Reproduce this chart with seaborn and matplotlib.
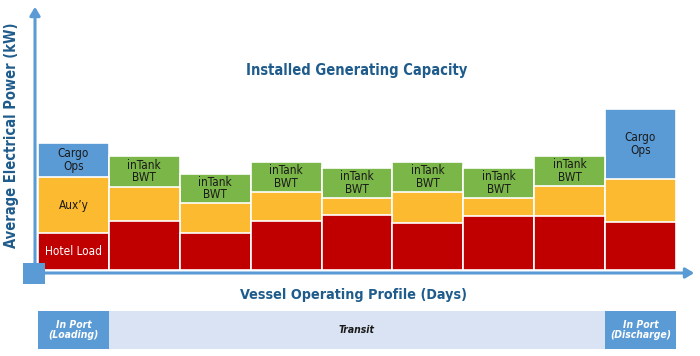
import matplotlib
matplotlib.use("Agg")
import matplotlib.pyplot as plt
import seaborn as sns
import pandas as pd
from matplotlib.patches import Rectangle, FancyArrowPatch

# data (pixel heights above the baseline)
days = ["D1", "D2", "D3", "D4", "D5", "D6", "D7", "D8", "D9"]
hotel_load = [37, 49, 37, 49, 55, 47, 54, 54, 48]
aux_load = [56, 34, 30, 29, 17, 31, 18, 30, 43]
top_load = [34, 31, 29, 30, 30, 30, 30, 30, 70]
top_kind = ["Cargo\nOps", "inTank\nBWT", "inTank\nBWT", "inTank\nBWT", "inTank\nBWT",
            "inTank\nBWT", "inTank\nBWT", "inTank\nBWT", "Cargo\nOps"]
phases = ["In Port\n(Loading)", "Transit", "In Port\n(Discharge)"]
phase_days = [1, 7, 1]

RED = "#C00000"
YELLOW = "#FBBA2F"
GREEN = "#7AB648"
BLUE = "#5B9BD5"
NAVY = "#1F5C8C"
LIGHT = "#DAE3F3"

sns.set_style("white")
plt.rcParams["font.family"] = ["DejaVu Sans"]
plt.rcParams["font.stretch"] = "condensed"

W, H = 700, 356
fig = plt.figure(figsize=(7, 3.56), dpi=100)


def fx(x):
    return x / W


def fy(y):
    return 1 - y / H


df = pd.DataFrame({"day": days, "hotel": hotel_load, "aux": aux_load,
                   "top": top_load, "kind": top_kind})
df["mid"] = df["hotel"] + df["aux"]
df["total"] = df["mid"] + df["top"]

# main bar axes: x 38..676 px, baseline at 270 px, top at 5 px
ax = fig.add_axes([fx(38), fy(270), fx(676 - 38), (270 - 5) / H])
palette = {"Cargo\nOps": BLUE, "inTank\nBWT": GREEN}
sns.barplot(data=df, x="day", y="total", hue="kind", palette=palette, dodge=False,
            saturation=1, legend=False, width=1.0, edgecolor="white", linewidth=1.2, ax=ax)
sns.barplot(data=df, x="day", y="mid", color=YELLOW, saturation=1, width=1.0,
            edgecolor="white", linewidth=1.2, ax=ax)
sns.barplot(data=df, x="day", y="hotel", color=RED, saturation=1, width=1.0,
            edgecolor="white", linewidth=1.2, ax=ax)
ax.set_xlim(-0.5, 8.5)
ax.set_ylim(0, 265)
ax.axis("off")

for i, row in df.iterrows():
    ax.text(i, row["mid"] + row["top"] / 2, row["kind"], ha="center", va="center",
            fontsize=8.5, color="#1a1a1a", linespacing=0.95)
ax.text(0, df["hotel"][0] + df["aux"][0] / 2, "Aux\u2019y", ha="center", va="center",
        fontsize=8.5, color="#1a1a1a")
ax.text(0, df["hotel"][0] / 2, "Hotel Load", ha="center", va="center",
        fontsize=8.5, color="white")

ax.text(4.0, 200, "Installed Generating Capacity", ha="center", va="center",
        fontsize=10.5, fontweight="bold", color=NAVY)

# axis arrows
fig.add_artist(FancyArrowPatch((fx(35), fy(282)), (fx(35), fy(4)), transform=fig.transFigure,
                               arrowstyle="-|>,head_length=5,head_width=3", color=BLUE,
                               lw=2.2, mutation_scale=1))
fig.add_artist(FancyArrowPatch((fx(35), fy(273)), (fx(697), fy(273)), transform=fig.transFigure,
                               arrowstyle="-|>,head_length=5,head_width=3", color=BLUE,
                               lw=2.2, mutation_scale=1))
fig.add_artist(Rectangle((fx(23), fy(284)), fx(22), 21 / H, transform=fig.transFigure,
                         color=BLUE, lw=0))

fig.text(fx(12), fy(135), "Average Electrical Power (kW)", rotation=90, ha="center",
         va="center", fontsize=10.5, fontweight="bold", color=NAVY)
fig.text(fx(354), fy(295), "Vessel Operating Profile (Days)", ha="center", va="center",
         fontsize=10.3, fontweight="bold", color=NAVY)

# phase band below the chart
band = fig.add_axes([fx(38), fy(349), fx(676 - 38), (349 - 311) / H])
band.set_xlim(-0.5, 8.5)
band.set_ylim(0, 1)
band.axis("off")
start = -0.5
for name, n in zip(phases, phase_days):
    is_port = name.startswith("In Port")
    band.axvspan(start, start + n, color=BLUE if is_port else LIGHT, lw=0)
    band.text(start + n / 2, 0.5, name, ha="center", va="center", fontsize=7.5,
              fontweight="bold", fontstyle="italic", linespacing=0.95,
              color="white" if is_port else "#1a1a1a")
    start += n

fig.savefig("out.png", dpi=100)
